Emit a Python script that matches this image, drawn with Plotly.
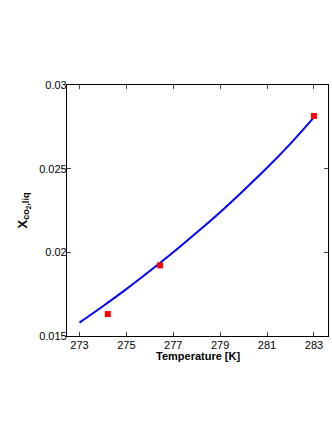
import plotly.graph_objects as go

# Model curve
temp_curve = [273, 274, 275, 276, 277, 278, 279, 280, 281, 282, 283]
x_curve = [0.0158, 0.01678, 0.0178, 0.01888, 0.02, 0.02118, 0.0224, 0.0237, 0.02505, 0.0265, 0.02807]

# Experimental points
temp_exp = [274.21, 276.44, 283.0]
x_exp = [0.01631, 0.01922, 0.02815]

xticks = [273, 275, 277, 279, 281, 283]
yticks = [0.015, 0.02, 0.025, 0.03]
ytick_text = ["0.015", "0.02", "0.025", "0.03"]

fig = go.Figure()
fig.add_trace(go.Scatter(x=temp_curve, y=x_curve, mode="lines",
                         line=dict(color="#0000ff", width=2), line_shape="spline",
                         showlegend=False))
fig.add_trace(go.Scatter(x=temp_exp, y=x_exp, mode="markers",
                         marker=dict(color="#ff0000", size=6, symbol="square"),
                         showlegend=False))

font = dict(family="Liberation Sans, Arial, sans-serif", size=11, color="black")
fig.update_layout(
    width=332, height=430,
    autosize=False,
    margin=dict(l=67, r=4, t=85, b=94, autoexpand=False),
    paper_bgcolor="white", plot_bgcolor="white",
    font=font,
    xaxis=dict(range=[272.47, 283.6], tickvals=xticks, ticks="inside", ticklen=4,
               showline=True, linecolor="black", linewidth=1.2, mirror="ticks",
               showgrid=False, zeroline=False, automargin=False,
               ticklabelstandoff=-1),
    yaxis=dict(range=[0.015, 0.03], tickvals=yticks, ticktext=ytick_text,
               ticks="inside", ticklen=4,
               showline=True, linecolor="black", linewidth=1.2, mirror="ticks",
               showgrid=False, zeroline=False, automargin=False,
               ticklabelstandoff=-3),
    annotations=[
        dict(text="<b>Temperature [K]</b>", xref="paper", yref="paper", x=0.5, y=0,
             xanchor="center", yanchor="middle", yshift=-20, showarrow=False,
             font=font),
        dict(text="<b>X<sub>co<sub>2</sub>,liq</sub></b>", xref="paper", yref="paper",
             x=0, y=0.5, xanchor="center", yanchor="middle", xshift=-44, showarrow=False,
             textangle=-90, font=dict(family=font["family"], size=13, color="black")),
    ],
)
fig.write_html("out.html", post_script="document.body.style.margin='0';",
               config={"displayModeBar": False})
